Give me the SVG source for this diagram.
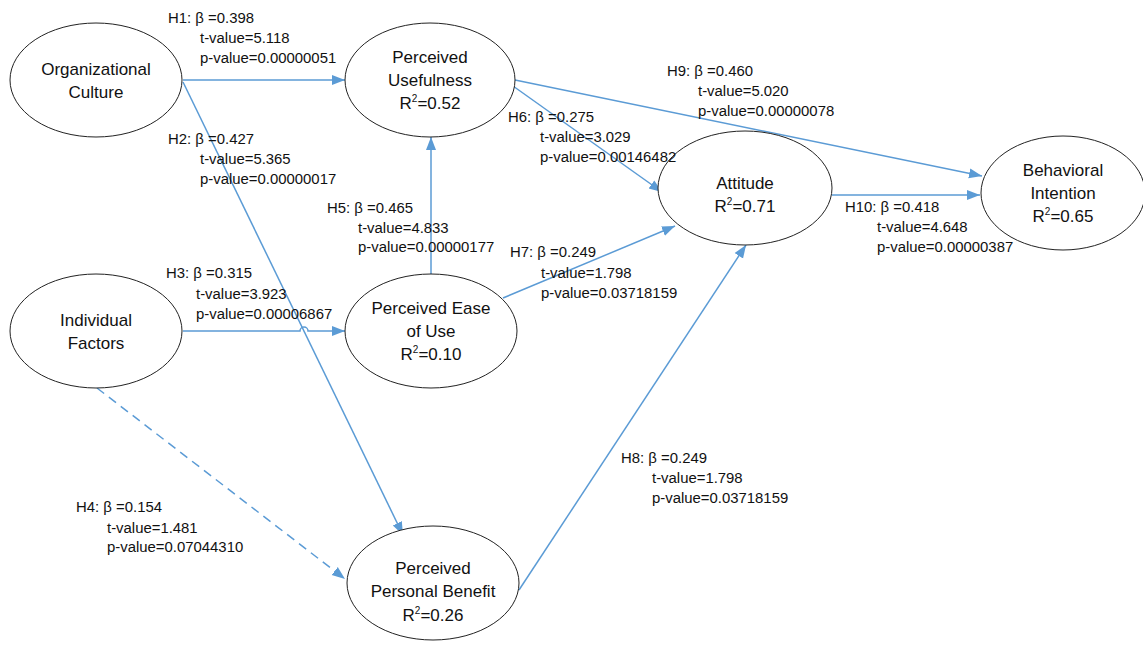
<svg xmlns="http://www.w3.org/2000/svg" width="1143" height="645" viewBox="0 0 1143 645">
<style>
.node ellipse{fill:#fff;stroke:#222;stroke-width:1}
.nt{font-family:"Liberation Sans",Arial,sans-serif;font-size:17px;fill:#111;text-anchor:middle}
.lb{font-family:"Liberation Sans",Arial,sans-serif;font-size:14.9px;fill:#111}
.c{fill:none;stroke:#5B9BD5;stroke-width:1.5}
.d{stroke-dasharray:9 6}
.sp{font-size:10px}
</style>
<defs>
<marker id="ar" markerUnits="userSpaceOnUse" markerWidth="14" markerHeight="12" viewBox="0 0 14 12" refX="13" refY="6" orient="auto">
<path d="M0,1 L13,6 L0,11 Z" fill="#5B9BD5"/>
</marker>
</defs>
<rect width="1143" height="645" fill="#fff"/>
<g id="connectors">
<path class="c" d="M183,80 L345,80" marker-end="url(#ar)"/>
<path class="c" d="M183,82 L403,535" marker-end="url(#ar)"/>
<path class="c" d="M183,331 H300 a4,4 0 0 1 8,0 H345" marker-end="url(#ar)"/>
<path class="c d" d="M97,388 L345,579" marker-end="url(#ar)"/>
<path class="c" d="M431,274 L431,137" marker-end="url(#ar)"/>
<path class="c" d="M513,86 L662,192" marker-end="url(#ar)"/>
<path class="c" d="M515,80 L982,176" marker-end="url(#ar)"/>
<path class="c" d="M503,298 L675,226" marker-end="url(#ar)"/>
<path class="c" d="M519,590 L746,245" marker-end="url(#ar)"/>
<path class="c" d="M832,195 L980,195" marker-end="url(#ar)"/>
</g>
<g id="oc" class="node"><ellipse cx="96" cy="80" rx="86" ry="57"/>
<text class="nt" x="96" y="75">Organizational</text><text class="nt" x="96" y="98">Culture</text></g>
<g id="pu" class="node"><ellipse cx="430" cy="80" rx="85" ry="57"/>
<text class="nt" x="430" y="63">Perceived</text><text class="nt" x="430" y="86">Usefulness</text><text class="nt" x="430" y="109">R<tspan class="sp" dy="-7">2</tspan><tspan dy="7">=0.52</tspan></text></g>
<g id="att" class="node"><ellipse cx="745" cy="188" rx="87" ry="57"/>
<text class="nt" x="745" y="189">Attitude</text><text class="nt" x="745" y="212">R<tspan class="sp" dy="-7">2</tspan><tspan dy="7">=0.71</tspan></text></g>
<g id="bi" class="node"><ellipse cx="1063" cy="193" rx="82" ry="57"/>
<text class="nt" x="1063" y="176">Behavioral</text><text class="nt" x="1063" y="199">Intention</text><text class="nt" x="1063" y="222">R<tspan class="sp" dy="-7">2</tspan><tspan dy="7">=0.65</tspan></text></g>
<g id="if" class="node"><ellipse cx="96" cy="331" rx="86" ry="57"/>
<text class="nt" x="96" y="326">Individual</text><text class="nt" x="96" y="349">Factors</text></g>
<g id="peu" class="node"><ellipse cx="431" cy="331" rx="86" ry="57"/>
<text class="nt" x="431" y="314">Perceived Ease</text><text class="nt" x="431" y="337">of Use</text><text class="nt" x="431" y="360">R<tspan class="sp" dy="-7">2</tspan><tspan dy="7">=0.10</tspan></text></g>
<g id="ppb" class="node"><ellipse cx="433" cy="583" rx="86" ry="57"/>
<text class="nt" x="433" y="574">Perceived</text><text class="nt" x="433" y="597">Personal Benefit</text><text class="nt" x="433" y="621">R<tspan class="sp" dy="-7">2</tspan><tspan dy="7">=0.26</tspan></text></g>
<g id="labels">
<text class="lb" x="168" y="23">H1: β =0.398</text><text class="lb" x="200" y="43">t-value=5.118</text><text class="lb" x="200" y="63">p-value=0.00000051</text>
<text class="lb" x="168" y="144">H2: β =0.427</text><text class="lb" x="200" y="164">t-value=5.365</text><text class="lb" x="200" y="184">p-value=0.00000017</text>
<text class="lb" x="327" y="213">H5: β =0.465</text><text class="lb" x="358" y="233">t-value=4.833</text><text class="lb" x="358" y="252">p-value=0.00000177</text>
<text class="lb" x="508" y="122">H6: β =0.275</text><text class="lb" x="540" y="142">t-value=3.029</text><text class="lb" x="540" y="162">p-value=0.00146482</text>
<text class="lb" x="667" y="76">H9: β =0.460</text><text class="lb" x="698" y="96">t-value=5.020</text><text class="lb" x="698" y="116">p-value=0.00000078</text>
<text class="lb" x="845" y="212">H10: β =0.418</text><text class="lb" x="877" y="232">t-value=4.648</text><text class="lb" x="877" y="252">p-value=0.00000387</text>
<text class="lb" x="510" y="257">H7: β =0.249</text><text class="lb" x="541" y="278">t-value=1.798</text><text class="lb" x="541" y="298">p-value=0.03718159</text>
<text class="lb" x="166" y="278">H3: β =0.315</text><text class="lb" x="196" y="299">t-value=3.923</text><text class="lb" x="196" y="319">p-value=0.00006867</text>
<text class="lb" x="76" y="512">H4: β =0.154</text><text class="lb" x="107" y="533">t-value=1.481</text><text class="lb" x="107" y="552">p-value=0.07044310</text>
<text class="lb" x="621" y="463">H8: β =0.249</text><text class="lb" x="652" y="483">t-value=1.798</text><text class="lb" x="652" y="503">p-value=0.03718159</text>
</g>
</svg>
